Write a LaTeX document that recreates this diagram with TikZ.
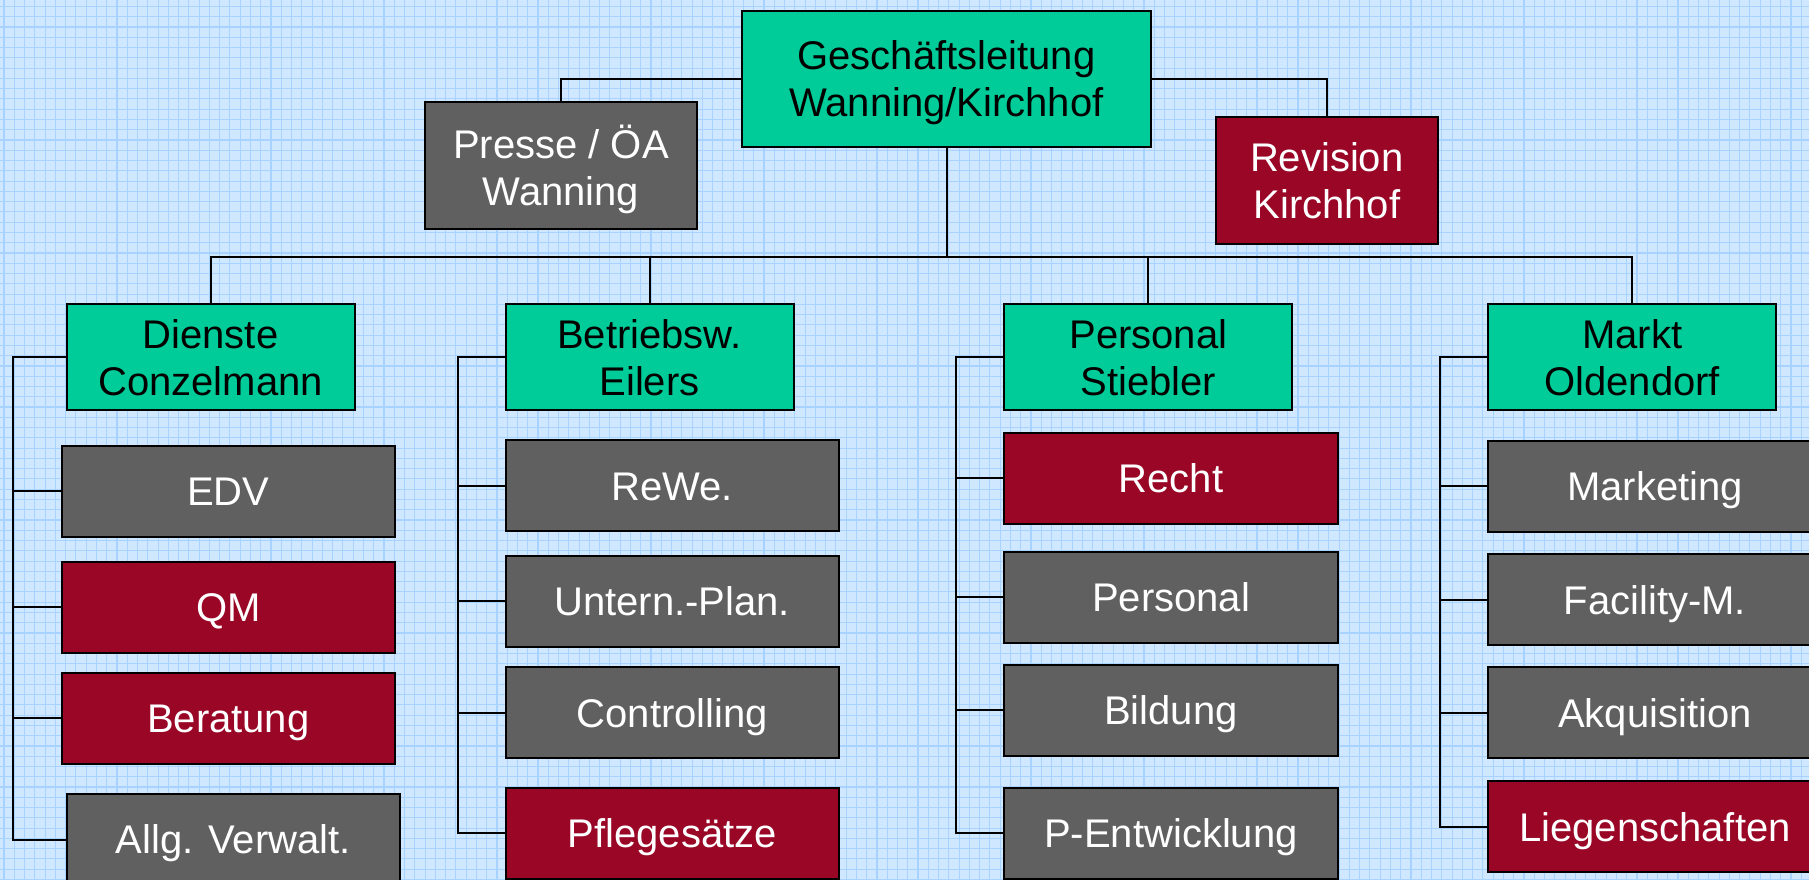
\documentclass[tikz,border=0pt]{standalone}
\usepackage{fontspec}
\setmainfont{Liberation Sans}
\definecolor{bgblue}{RGB}{208,232,255}
\definecolor{gridblue}{RGB}{168,210,255}
\definecolor{boxgreen}{RGB}{0,204,153}
\definecolor{boxgrey}{RGB}{96,96,96}
\definecolor{boxred}{RGB}{153,6,38}
\tikzset{
  basebox/.style={draw=black, line width=2pt, inner sep=0pt, font=\fontsize{40}{47}\selectfont, text depth=0pt},
  leadbox/.style={basebox, fill=boxgreen, text=black, align=center, minimum width=288, minimum height=106},
  greybox/.style={basebox, fill=boxgrey, text=white},
  redbox/.style={basebox, fill=boxred, text=white},
  onerow/.style={text height=28.6pt, minimum width=333.3, minimum height=91},
  link/.style={line width=2pt, draw=black},
  gridline/.style={line width=1.1pt, draw=gridblue},
}
\begin{document}
\begin{tikzpicture}[x=1pt,y=-1pt]
\useasboundingbox (0,0) rectangle (1809,879);
\fill[bgblue] (0,0) rectangle (1809,879);
\foreach \i in {0,...,176} \draw[gridline] (4+\i*10.27,0) -- (4+\i*10.27,879);
\foreach \j in {0,...,86} \draw[gridline] (0,6.5+\j*10.27) -- (1809,6.5+\j*10.27);

% top level
\node[basebox, fill=boxgreen, text=black, align=center, minimum width=409, minimum height=136] (gl) at (946.5,79) {Geschäftsleitung\\Wanning/Kirchhof};
\node[greybox, align=center, minimum width=272, minimum height=127] (presse) at (561,165.3) {Presse / ÖA\\Wanning};
\node[redbox, align=center, minimum width=222, minimum height=127] (revision) at (1326.8,180.2) {Revision\\Kirchhof};

% second level
\node[leadbox] (dienste) at (210.5,357.3) {Dienste\\Conzelmann};
\node[leadbox] (betr) at (649.5,357.3) {Betriebsw.\\Eilers};
\node[leadbox] (pers) at (1148.3,357.3) {Personal\\Stiebler};
\node[leadbox] (markt) at (1632.2,357.3) {Markt\\Oldendorf};

% column 1
\node[greybox, onerow] (edv) at (228.3,491.2) {EDV};
\node[redbox, onerow] (qm) at (228.3,607) {QM};
\node[redbox, onerow] (beratung) at (228.3,718.3) {Beratung};
\node[greybox, onerow] (allg) at (233.3,839.5) {Allg. Verwalt.};

% column 2
\node[greybox, onerow] (rewe) at (672.3,485.8) {ReWe.};
\node[greybox, onerow] (plan) at (672.3,601.3) {Untern.-Plan.};
\node[greybox, onerow] (contr) at (672.3,712.8) {Controlling};
\node[redbox, onerow] (pflege) at (672.3,833.3) {Pflegesätze};

% column 3
\node[redbox, onerow] (recht) at (1171,478.2) {Recht};
\node[greybox, onerow] (personal) at (1171,597) {Personal};
\node[greybox, onerow] (bildung) at (1171,710.3) {Bildung};
\node[greybox, onerow] (pentw) at (1171,833.3) {P-Entwicklung};

% column 4
\node[greybox, onerow] (marketing) at (1655,486) {Marketing};
\node[greybox, onerow] (facility) at (1655,599.7) {Facility-M.};
\node[greybox, onerow] (akqu) at (1655,712.8) {Akquisition};
\node[redbox, onerow] (liegen) at (1655,826.7) {Liegenschaften};

% connectors top
\draw[link] (gl.west) -| (presse.north);
\draw[link] (gl.east) -| (revision.north);
\coordinate (busy) at (0,256.5);
\draw[link] (gl.south) -- (gl.south |- busy);
\draw[link] (dienste.north) -- (dienste.north |- busy) -- (markt.north |- busy) -- (markt.north);
\draw[link] (betr.north) -- (betr.north |- busy);
\draw[link] (pers.north) -- (pers.north |- busy);

% side rails
\coordinate (railA) at (13.3,0);
\coordinate (railB) at (457.7,0);
\coordinate (railC) at (956.3,0);
\coordinate (railD) at (1440.3,0);

\draw[link] (dienste.west) -- (dienste.west -| railA) |- (allg.west);
\foreach \n in {edv,qm,beratung} \draw[link] (\n.west) -- (\n.west -| railA);

\draw[link] (betr.west) -- (betr.west -| railB) |- (pflege.west);
\foreach \n in {rewe,plan,contr} \draw[link] (\n.west) -- (\n.west -| railB);

\draw[link] (pers.west) -- (pers.west -| railC) |- (pentw.west);
\foreach \n in {recht,personal,bildung} \draw[link] (\n.west) -- (\n.west -| railC);

\draw[link] (markt.west) -- (markt.west -| railD) |- (liegen.west);
\foreach \n in {marketing,facility,akqu} \draw[link] (\n.west) -- (\n.west -| railD);
\end{tikzpicture}
\end{document}
